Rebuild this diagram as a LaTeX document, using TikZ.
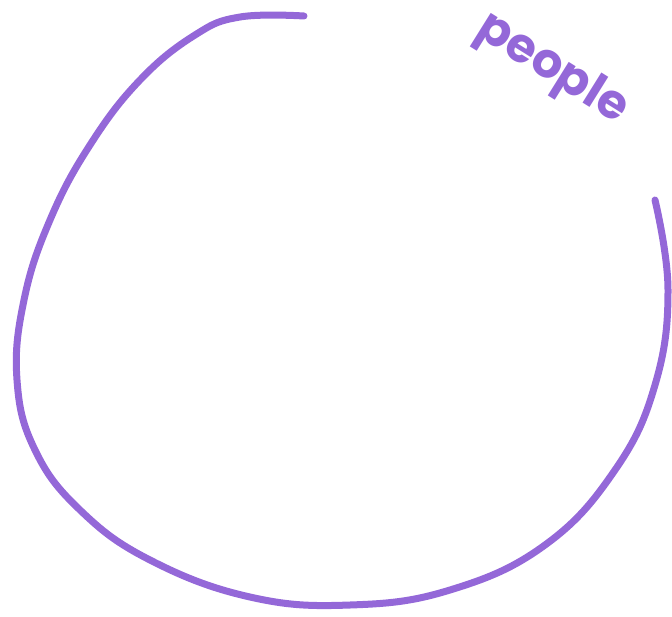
\documentclass[tikz,border=0pt]{standalone}
\usepackage{fontspec}
\setmainfont{Poppins}
\definecolor{marker}{HTML}{9468D8}
\begin{document}
\begin{tikzpicture}[x=1pt,y=-1pt,
  stroke/.style={draw=marker,line width=7pt,line cap=round,line join=round},
  label/.style={text=marker,font=\fontsize{48}{48}\selectfont\bfseries,rotate=-32}]
\useasboundingbox (0,0) rectangle (672,616);
\draw[stroke] plot[smooth,tension=0.7] coordinates {(304,16) (240,17) (195,35) (140,80) (90,145) (50,220) (24,300) (17,380) (35,450) (80,510) (150,560) (250,597) (350,605) (450,590) (545,545) (615,470) (655,385) (668,290) (655,200)};
\node[label] (people) at (552,70) {people};
\end{tikzpicture}
\end{document}
